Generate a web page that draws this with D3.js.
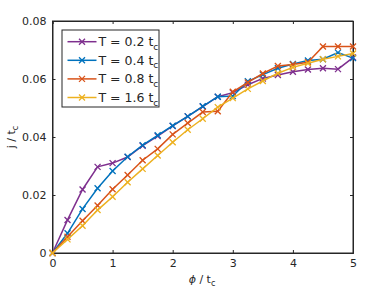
<!DOCTYPE html>
<html>
<head>
<meta charset="utf-8">
<script src="https://cdn.jsdelivr.net/npm/d3@7"></script>
<style>
  body { margin: 0; background: #fff; }
  svg text { font-family: "DejaVu Sans", sans-serif; fill: #262626; }
</style>
</head>
<body>
<svg id="chart" width="390" height="293"></svg>
<script>
// phi / t_c sample points
const phi = [0, 0.25, 0.5, 0.75, 1, 1.25, 1.5, 1.75, 2, 2.25, 2.5, 2.75, 3, 3.25, 3.5, 3.75, 4, 4.25, 4.5, 4.75, 5];

// j / t_c for each temperature
const jT02 = [0, 0.0114, 0.0219, 0.0297, 0.0310, 0.0331, 0.0370, 0.0403, 0.0438, 0.0471, 0.0505, 0.0539, 0.0553, 0.0580, 0.0602, 0.0614, 0.0625, 0.0633, 0.0637, 0.0634, 0.0674];
const jT04 = [0, 0.0068, 0.0152, 0.0223, 0.0283, 0.0332, 0.0372, 0.0406, 0.0439, 0.0471, 0.0506, 0.0539, 0.0541, 0.0592, 0.0615, 0.0637, 0.0652, 0.0664, 0.0668, 0.0691, 0.0672];
const jT08 = [0, 0.0056, 0.0111, 0.0164, 0.0220, 0.0269, 0.0320, 0.0359, 0.0409, 0.0448, 0.0486, 0.0489, 0.0556, 0.0588, 0.0619, 0.0645, 0.0650, 0.0658, 0.0712, 0.0712, 0.0712];
const jT16 = [0, 0.0047, 0.0094, 0.0148, 0.0194, 0.0244, 0.0290, 0.0336, 0.0382, 0.0425, 0.0463, 0.0503, 0.0534, 0.0566, 0.0593, 0.0620, 0.0640, 0.0654, 0.0668, 0.0678, 0.0688];

const seriesNames = ["T = 0.2 t", "T = 0.4 t", "T = 0.8 t", "T = 1.6 t"];
const seriesColors = ["#7E2F8E", "#0072BD", "#D95319", "#EDB120"];
const seriesValues = [jT02, jT04, jT08, jT16];

const xTicks = [0, 1, 2, 3, 4, 5];
const yTicks = [0, 0.02, 0.04, 0.06, 0.08];

const svg = d3.select("#chart");
const plotLeft = 52.5, plotRight = 353, plotTop = 21, plotBottom = 253;

const x = d3.scaleLinear().domain([0, 5]).range([plotLeft, plotRight]);
const y = d3.scaleLinear().domain([0, 0.08]).range([plotBottom, plotTop]);

const axisColor = "#262626";

// box
svg.append("rect")
   .attr("x", plotLeft).attr("y", plotTop)
   .attr("width", plotRight - plotLeft).attr("height", plotBottom - plotTop)
   .attr("fill", "none").attr("stroke", axisColor).attr("stroke-width", 1);

// axes with inward ticks
const xAxis = svg.append("g")
   .attr("transform", `translate(0,${plotBottom})`)
   .call(d3.axisBottom(x).tickValues(xTicks).tickSize(-3).tickPadding(6).tickFormat(d3.format("d")));
const xAxisTop = svg.append("g")
   .attr("transform", `translate(0,${plotTop})`)
   .call(d3.axisTop(x).tickValues(xTicks).tickSize(-3).tickFormat(""));
const yAxis = svg.append("g")
   .attr("transform", `translate(${plotLeft},0)`)
   .call(d3.axisLeft(y).tickValues(yTicks).tickSize(-3).tickPadding(6).tickFormat(d => d === 0 ? "0" : d3.format(".2f")(d)));
const yAxisRight = svg.append("g")
   .attr("transform", `translate(${plotRight},0)`)
   .call(d3.axisRight(y).tickValues(yTicks).tickSize(-3).tickFormat(""));

[xAxis, xAxisTop, yAxis, yAxisRight].forEach(function(g) {
   g.select(".domain").attr("stroke", axisColor);
   g.selectAll(".tick line").attr("stroke", axisColor);
   g.selectAll("text").attr("fill", axisColor)
      .style("font-family", '"DejaVu Sans", sans-serif')
      .style("font-size", "11px");
});

// data lines
const line = d3.line()
   .x((d, i) => x(phi[i]))
   .y(d => y(d));

function cross(g, cx, cy, color) {
   const s = 3;
   g.append("path")
      .attr("d", `M${cx - s},${cy - s}L${cx + s},${cy + s}M${cx - s},${cy + s}L${cx + s},${cy - s}`)
      .attr("stroke", color).attr("stroke-width", 1.3).attr("fill", "none");
}

seriesValues.forEach(function(vals, k) {
   const g = svg.append("g");
   g.append("path")
      .datum(vals)
      .attr("d", line)
      .attr("fill", "none")
      .attr("stroke", seriesColors[k])
      .attr("stroke-width", 1.5);
   vals.forEach(function(v, i) {
      cross(g, x(phi[i]), y(v), seriesColors[k]);
   });
});

// legend
const legend = svg.append("g");
legend.append("rect")
   .attr("x", 62).attr("y", 30).attr("width", 97).attr("height", 77)
   .attr("fill", "#fff").attr("stroke", axisColor).attr("stroke-width", 1);

seriesNames.forEach(function(name, k) {
   const ly = 41.7 + k * 18.6;
   legend.append("line")
      .attr("x1", 67.5).attr("x2", 96.5).attr("y1", ly).attr("y2", ly)
      .attr("stroke", seriesColors[k]).attr("stroke-width", 1.5);
   cross(legend, 82, ly, seriesColors[k]);
   const t = legend.append("text")
      .attr("x", 98.5).attr("y", ly + 4.5)
      .style("font-size", "12.5px");
   t.append("tspan").text(name);
   t.append("tspan").attr("dy", 3.5).style("font-size", "9px").text("c");
});

// axis labels
const xl = svg.append("text")
   .attr("x", 202).attr("y", 283)
   .attr("text-anchor", "middle")
   .style("font-size", "11px");
xl.append("tspan").style("font-style", "italic").text("\u03D5");
xl.append("tspan").text(" / t");
xl.append("tspan").attr("dy", 3).style("font-size", "8px").text("c");

const yl = svg.append("text")
   .attr("transform", "translate(15,137) rotate(-90)")
   .attr("text-anchor", "middle")
   .style("font-size", "11px");
yl.append("tspan").text("j / t");
yl.append("tspan").attr("dy", 3).style("font-size", "8px").text("c");
</script>
</body>
</html>
